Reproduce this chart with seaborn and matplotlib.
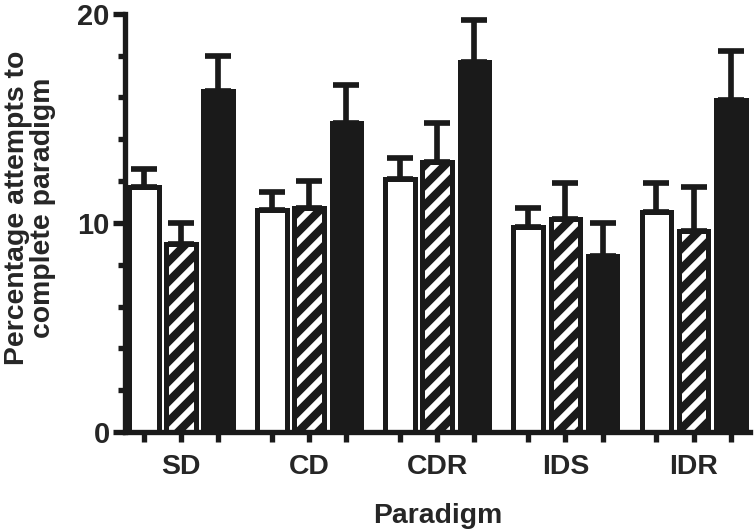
import numpy as np
import pandas as pd
import matplotlib
matplotlib.use("Agg")
import matplotlib.pyplot as plt
from matplotlib.ticker import MultipleLocator
from matplotlib.colors import to_rgba
import seaborn as sns

# values
paradigms = ["SD", "CD", "CDR", "IDS", "IDR"]
conditions = ["open", "hatched", "filled"]
open_mean = [11.7, 10.6, 12.1, 9.8, 10.5]
open_err = [0.9, 0.9, 1.0, 0.9, 1.4]
hatched_mean = [9.0, 10.7, 12.9, 10.2, 9.6]
hatched_err = [1.0, 1.3, 1.9, 1.7, 2.1]
filled_mean = [16.3, 14.8, 17.7, 8.4, 15.9]
filled_err = [1.7, 1.8, 2.0, 1.6, 2.3]

INK = "#1a1a1a"

df = pd.DataFrame({
    "paradigm": paradigms * 3,
    "condition": np.repeat(conditions, len(paradigms)),
    "value": open_mean + hatched_mean + filled_mean,
})
errs = [open_err, hatched_err, filled_err]

sns.set_style("ticks")
plt.rcParams["font.family"] = ["Liberation Sans", "DejaVu Sans"]
plt.rcParams["font.weight"] = "bold"
plt.rcParams["hatch.linewidth"] = 3.6
plt.rcParams["hatch.color"] = "white"

fig = plt.figure(figsize=(756 / 120, 532 / 120), dpi=120)
ax = fig.add_axes([0.165, 0.188, 0.827, 0.786])

sns.barplot(
    data=df, x="paradigm", y="value", hue="condition",
    order=paradigms, hue_order=conditions,
    palette=["white", INK, INK], width=0.87, gap=0.2,
    edgecolor=INK, linewidth=3, errorbar=None, legend=False, ax=ax,
)

# hatched bars: white stripes on black
for bar in ax.containers[1]:
    bar.set_hatch("//")
    if hasattr(bar, "set_hatchcolor"):
        bar.set_hatchcolor("white")
    bar._hatch_color = to_rgba("white")

# one-sided (upper) error bars
centers = []
for cont, err in zip(ax.containers, errs):
    xs = [b.get_x() + b.get_width() / 2 for b in cont]
    ys = [b.get_height() for b in cont]
    centers += xs
    ax.errorbar(xs, ys, yerr=[np.zeros(len(err)), err], fmt="none",
                ecolor=INK, elinewidth=3.4, capsize=8, capthick=3.4, zorder=1)

centers = sorted(centers)
labels = [paradigms[i // 3] if i % 3 == 1 else "" for i in range(len(centers))]
ax.set_xticks(centers)
ax.set_xticklabels(labels)

ax.set_xlim(-0.44, 4.44)
ax.set_ylim(0, 20)
ax.yaxis.set_major_locator(MultipleLocator(10))
ax.yaxis.set_minor_locator(MultipleLocator(2))

for s in ["left", "bottom"]:
    ax.spines[s].set_linewidth(3.2)
    ax.spines[s].set_color(INK)
sns.despine(ax=ax)

ax.tick_params(axis="y", which="major", length=7, width=3.2, color=INK,
               labelsize=17.5, pad=2)
ax.tick_params(axis="y", which="minor", length=4.5, width=3.2, color=INK)
ax.tick_params(axis="x", length=6, width=3.2, color=INK, labelsize=17, pad=7)

ax.set_xlabel("Paradigm", fontsize=17, fontweight="bold", labelpad=14)
ax.set_ylabel("Percentage attempts to\ncomplete paradigm", fontsize=17,
              fontweight="bold", labelpad=13, linespacing=1.0)
ax.yaxis.label.set_y(0.535)

fig.savefig("out.png", dpi=120)
plt.close(fig)
